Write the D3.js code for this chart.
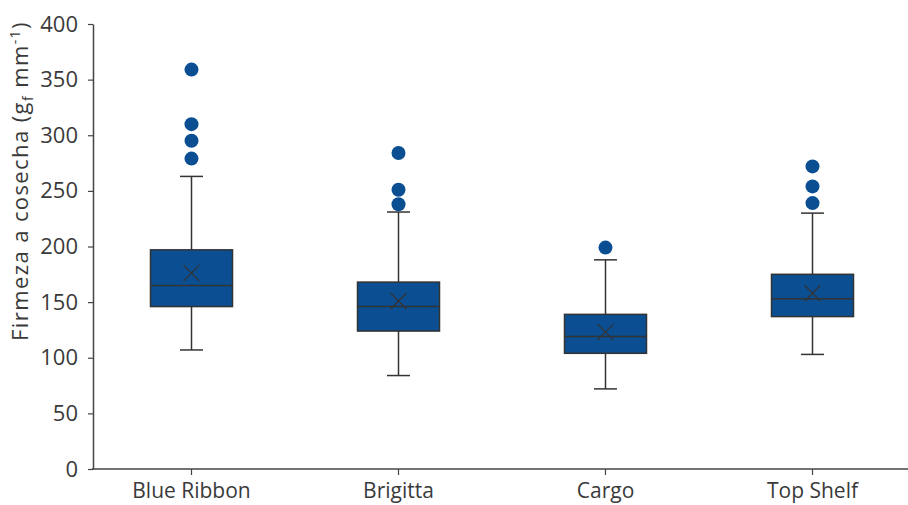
<!DOCTYPE html>
<html>
<head>
<meta charset="utf-8">
<script src="https://cdn.jsdelivr.net/npm/d3@7"></script>
<style>
  body { margin: 0; background: #fff; }
</style>
</head>
<body>
<div class="chart"></div>
<script>
// values
const categories = ["Blue Ribbon", "Brigitta", "Cargo", "Top Shelf"];
const whiskerLow = [107, 84, 72, 103];
const q1 = [146, 124, 104, 137];
const medians = [165, 146, 119, 153];
const q3 = [197, 168, 139, 175];
const whiskerHigh = [263, 231, 188, 230];
const means = [176, 151, 123, 158];
const outliers = [[279, 295, 310, 359], [238, 251, 284], [199], [239, 254, 272]];
const yTicks = [0, 50, 100, 150, 200, 250, 300, 350, 400];

const w = 908;
const h = 505;
const boxFill = "#0b4f92";
const ink = "#333";

const svg = d3.select(".chart")
  .append("svg")
  .attr("width", w)
  .attr("height", h)
  .style("background-color", "white");

const x = d3.scaleBand().domain(categories).range([88, 916]);
const y = d3.scaleLinear().domain([0, 400]).range([469, 24]);

const boxW = 82;
const capW = 23;

// y axis
const yAxis = svg.append("g")
  .attr("transform", "translate(93,0)")
  .call(d3.axisLeft(y).tickValues(yTicks).tickSize(5).tickPadding(10).tickSizeOuter(0));
yAxis.select(".domain").attr("stroke", "#444").attr("stroke-width", 1.5);
yAxis.selectAll(".tick line").attr("stroke", "#444").attr("stroke-width", 1.2);
yAxis.selectAll("text")
  .attr("font-family", "'Open Sans', sans-serif")
  .attr("font-size", 22)
  .attr("fill", "#3a3a3a");

// x axis
const xAxis = svg.append("g")
  .attr("transform", "translate(0,469)")
  .call(d3.axisBottom(x).tickSize(6).tickPadding(8).tickSizeOuter(0));
xAxis.select(".domain").remove();
xAxis.selectAll(".tick line").attr("stroke", "#444").attr("stroke-width", 1.2);
xAxis.selectAll("text")
  .attr("font-family", "'Open Sans', sans-serif")
  .attr("font-size", 21)
  .attr("fill", "#3a3a3a");
svg.append("line")
  .attr("x1", 92).attr("x2", 908)
  .attr("y1", 469).attr("y2", 469)
  .attr("stroke", "#444").attr("stroke-width", 1.5);

// y label
svg.append("text")
  .attr("transform", "translate(28,181) rotate(-90)")
  .attr("text-anchor", "middle")
  .attr("font-family", "'Open Sans', sans-serif")
  .attr("font-size", 22)
  .attr("letter-spacing", 1.4)
  .attr("fill", "#3a3a3a")
  .html('Firmeza a cosecha (g<tspan font-size="14" dy="5">f</tspan><tspan dy="-5"> mm</tspan><tspan font-size="14" dy="-8">-1</tspan><tspan dy="8">)</tspan>');

const cx = function(i){ return x(categories[i]) + x.bandwidth() / 2; };

const groups = svg.selectAll(".box")
  .data(categories)
  .enter()
  .append("g")
  .attr("class", "box");

// whiskers
groups.append("line")
  .attr("x1", (d, i) => cx(i)).attr("x2", (d, i) => cx(i))
  .attr("y1", (d, i) => y(whiskerLow[i])).attr("y2", (d, i) => y(whiskerHigh[i]))
  .attr("stroke", ink).attr("stroke-width", 1.5);
groups.append("line")
  .attr("x1", (d, i) => cx(i) - capW / 2).attr("x2", (d, i) => cx(i) + capW / 2)
  .attr("y1", (d, i) => y(whiskerLow[i])).attr("y2", (d, i) => y(whiskerLow[i]))
  .attr("stroke", ink).attr("stroke-width", 1.5);
groups.append("line")
  .attr("x1", (d, i) => cx(i) - capW / 2).attr("x2", (d, i) => cx(i) + capW / 2)
  .attr("y1", (d, i) => y(whiskerHigh[i])).attr("y2", (d, i) => y(whiskerHigh[i]))
  .attr("stroke", ink).attr("stroke-width", 1.5);

// boxes
groups.append("rect")
  .attr("x", (d, i) => cx(i) - boxW / 2)
  .attr("y", (d, i) => y(q3[i]))
  .attr("width", boxW)
  .attr("height", (d, i) => y(q1[i]) - y(q3[i]))
  .attr("fill", boxFill)
  .attr("stroke", ink)
  .attr("stroke-width", 1.5);

// medians
groups.append("line")
  .attr("x1", (d, i) => cx(i) - boxW / 2).attr("x2", (d, i) => cx(i) + boxW / 2)
  .attr("y1", (d, i) => y(medians[i])).attr("y2", (d, i) => y(medians[i]))
  .attr("stroke", ink).attr("stroke-width", 1.5);

// mean markers (x)
const m = 8;
groups.append("path")
  .attr("d", (d, i) => {
    const px = cx(i), py = y(means[i]);
    return "M" + (px - m) + "," + (py - m) + "L" + (px + m) + "," + (py + m) +
           "M" + (px - m) + "," + (py + m) + "L" + (px + m) + "," + (py - m);
  })
  .attr("stroke", ink).attr("stroke-width", 1.2).attr("fill", "none");

// outliers
groups.selectAll("circle")
  .data((d, i) => outliers[i].map(v => ({ i: i, v: v })))
  .enter()
  .append("circle")
  .attr("cx", d => cx(d.i))
  .attr("cy", d => y(d.v))
  .attr("r", 7)
  .attr("fill", boxFill);
</script>
</body>
</html>
